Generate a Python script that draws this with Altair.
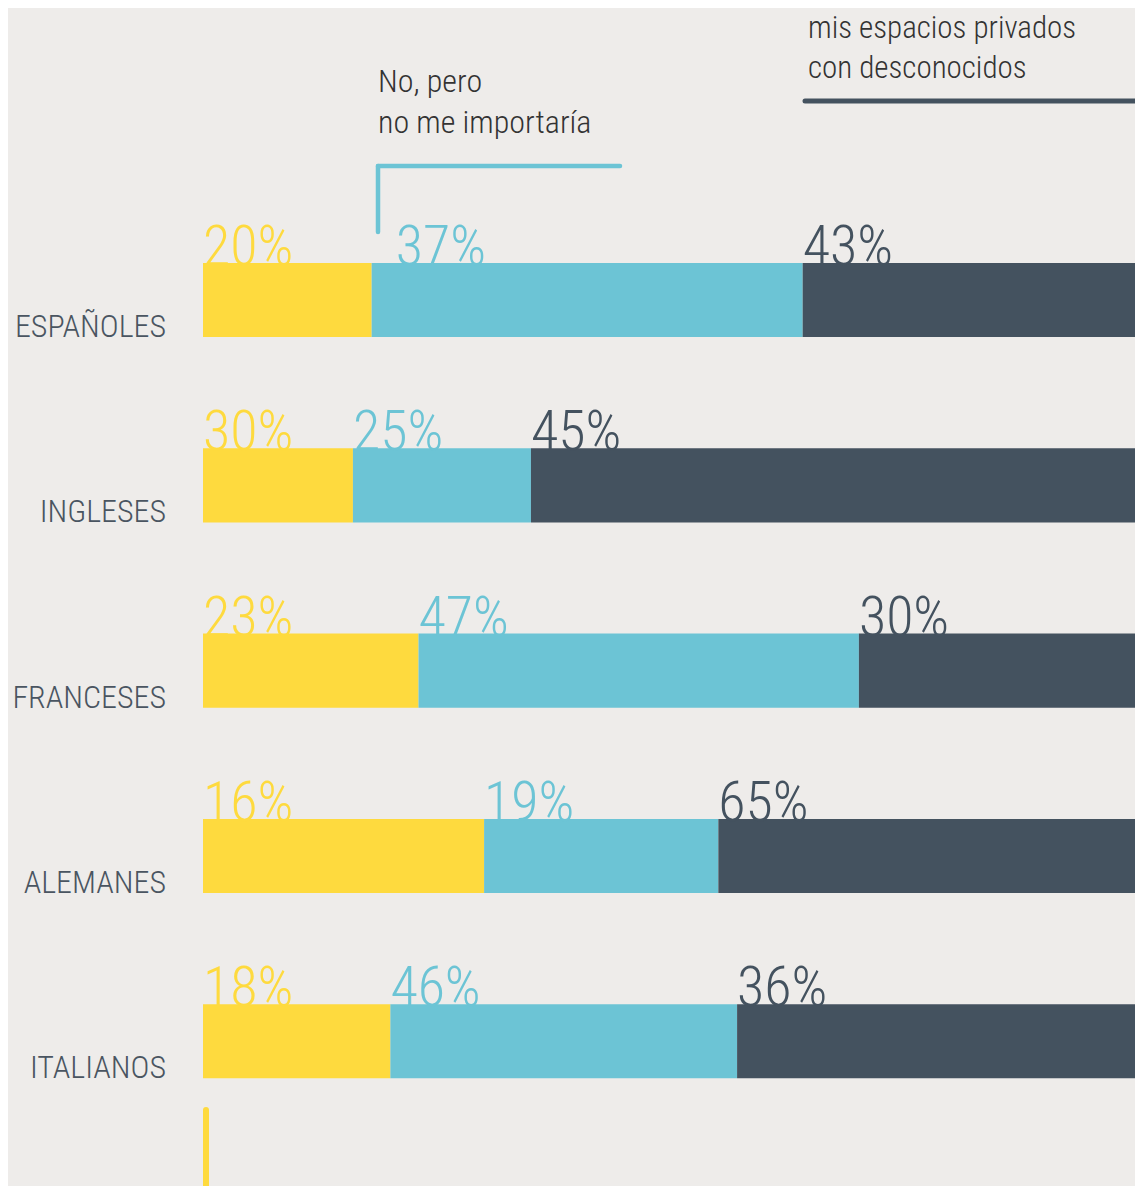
import altair as alt
import pandas as pd

FONT = "Roboto Condensed, Liberation Sans Narrow, DejaVu Sans Condensed, Roboto, sans-serif"

countries = ["ESPAÑOLES", "INGLESES", "FRANCESES", "ALEMANES", "ITALIANOS"]
series = ["si", "no_pero", "no"]
# printed percentages
label_si = [20, 30, 23, 16, 18]
label_no_pero = [37, 25, 47, 19, 46]
label_no = [43, 45, 30, 65, 36]
# drawn bar lengths
bar_si = [18, 16, 23, 30, 20]
bar_no_pero = [46, 19, 47, 25, 37]
bar_no = [36, 65, 30, 45, 43]
colors = ["#FEDA3E", "#6CC4D5", "#44525F"]
annot_no_pero = ["No, pero", "no me importaría"]
annot_no = ["mis espacios privados", "con desconocidos"]

rows = []
for i, c in enumerate(countries):
    for j, (s, bars_, labs) in enumerate(zip(series, [bar_si, bar_no_pero, bar_no],
                                              [label_si, label_no_pero, label_no])):
        rows.append({"country": c, "serie": s, "order": j, "value": bars_[i],
                     "txt": f"{labs[i]}%"})
df = pd.DataFrame(rows)

xs = alt.Scale(domain=[0, 100], range=[195, 1132])
ys = alt.Scale(domain=countries, range=[255, 1070.3], paddingInner=0.6, paddingOuter=0)
cs = alt.Scale(domain=series, range=colors)

base = alt.Chart(df).transform_stack(
    stack="value", groupby=["country"],
    sort=[alt.SortField("order", order="ascending")], as_=["x0", "x1"]
)

bars = base.mark_bar().encode(
    x=alt.X("x0:Q", scale=xs, axis=None),
    x2="x1:Q",
    y=alt.Y("country:N", scale=ys, axis=None),
    color=alt.Color("serie:N", scale=cs, legend=None),
)

def pct_layer(flt, dx):
    return base.transform_filter(flt).mark_text(
        align="left", baseline="alphabetic", dy=2, dx=dx, fontSize=56,
        fontWeight=300, font=FONT
    ).encode(
        x=alt.X("x0:Q", scale=xs, axis=None),
        y=alt.Y("country:N", scale=ys, axis=None, bandPosition=0),
        text="txt:N",
        color=alt.Color("serie:N", scale=cs, legend=None),
    )

special = "datum.country == 'ESPAÑOLES' && datum.serie == 'no_pero'"
pct_main = pct_layer("!(" + special + ")", 0)
pct_special = pct_layer(special, 24)

names = alt.Chart(pd.DataFrame({"country": countries})).mark_text(
    align="right", baseline="alphabetic", fontSize=32, fontWeight=300,
    color="#4A5561", font=FONT
).encode(
    x=alt.value(158),
    y=alt.Y("country:N", scale=ys, axis=None, bandPosition=1),
    text="country:N",
)

one = pd.DataFrame({"a": [0]})
rule_dark = alt.Chart(one).mark_rule(color="#44525F", strokeWidth=5, strokeCap="round").encode(
    x=alt.value(797), x2=alt.value(1140), y=alt.value(93))
rule_blue_h = alt.Chart(one).mark_rule(color="#6CC4D5", strokeWidth=4.5, strokeCap="round").encode(
    x=alt.value(370), x2=alt.value(612), y=alt.value(158))
rule_blue_v = alt.Chart(one).mark_rule(color="#6CC4D5", strokeWidth=4.5, strokeCap="round").encode(
    x=alt.value(370), y=alt.value(158), y2=alt.value(224))
rule_yellow = alt.Chart(one).mark_rule(color="#FEDA3E", strokeWidth=6, strokeCap="round").encode(
    x=alt.value(198), y=alt.value(1102), y2=alt.value(1200))

txt_blue = alt.Chart(one).mark_text(
    align="left", baseline="alphabetic", fontSize=32, fontWeight=300, lineHeight=41,
    color="#333333", font=FONT
).encode(x=alt.value(370), y=alt.value(84), text=alt.value(annot_no_pero))
txt_dark = alt.Chart(one).mark_text(
    align="left", baseline="alphabetic", fontSize=31, fontWeight=300, lineHeight=40,
    color="#333333", font=FONT
).encode(x=alt.value(800), y=alt.value(30), text=alt.value(annot_no))

chart = alt.layer(
    bars, pct_main, pct_special, names,
    rule_dark, rule_blue_h, rule_blue_v, rule_yellow, txt_blue, txt_dark
).properties(
    width=1127, height=1178,
    autosize=alt.AutoSizeParams(type="none"),
    padding=0,
    background="#EEECEA",
).configure_view(stroke=None)

chart.save("out.html", embed_options={"renderer": "svg", "actions": False})
